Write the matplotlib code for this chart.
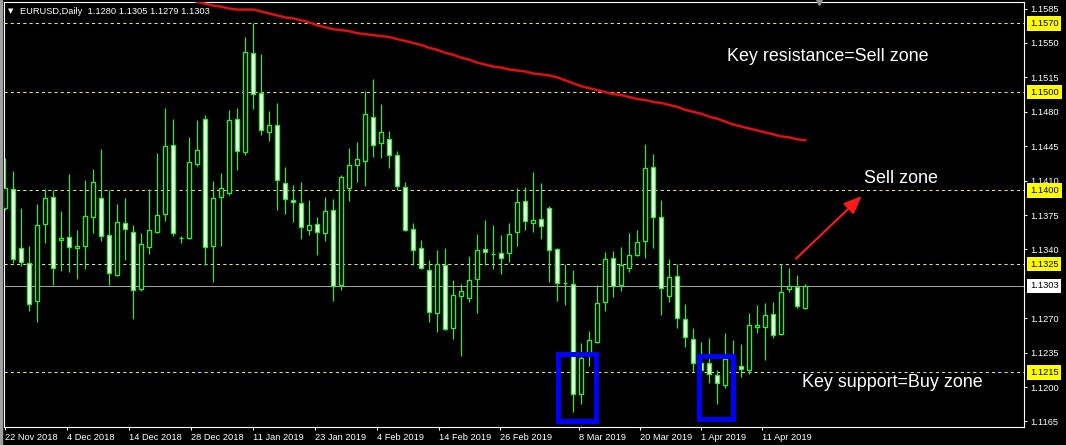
import numpy as np
import matplotlib
matplotlib.use('Agg')
import matplotlib.pyplot as plt
from matplotlib.patches import Rectangle

plt.rcParams['font.family'] = ['Liberation Sans', 'DejaVu Sans']

# dane swiec EURUSD D1
opens = [1.1382, 1.1401, 1.1341, 1.1326, 1.1288, 1.1366, 1.1393, 1.1350, 1.1353, 1.1341,
         1.1344, 1.1373, 1.1392, 1.1355, 1.1314, 1.1367, 1.1358, 1.1300, 1.1343, 1.1358,
         1.1376, 1.1446, 1.1352, 1.1352, 1.1427, 1.1473, 1.1344, 1.1393, 1.1397, 1.1473,
         1.1439, 1.1540, 1.1499, 1.1459, 1.1467, 1.1408, 1.1390, 1.1387, 1.1360, 1.1366,
         1.1357, 1.1380, 1.1304, 1.1402, 1.1426, 1.1430, 1.1475, 1.1448, 1.1452, 1.1436,
         1.1404, 1.1361, 1.1341, 1.1319, 1.1275, 1.1324, 1.1260, 1.1293, 1.1291, 1.1310,
         1.1340, 1.1335, 1.1336, 1.1336, 1.1358, 1.1389, 1.1367, 1.1371, 1.1382, 1.1340,
         1.1306, 1.1305, 1.1193, 1.1233, 1.1246, 1.1287, 1.1331, 1.1304, 1.1321, 1.1334,
         1.1349, 1.1424, 1.1373, 1.1293, 1.1313, 1.1269, 1.1249, 1.1224, 1.1225, 1.1212,
         1.1202, 1.1217, 1.1221, 1.1217, 1.1261, 1.1261, 1.1274, 1.1254, 1.1300, 1.1302,
         1.1280]
highs = [1.1433, 1.1420, 1.1382, 1.1344, 1.1386, 1.1401, 1.1400, 1.1379, 1.1417, 1.1360,
         1.1411, 1.1422, 1.1442, 1.1400, 1.1386, 1.1392, 1.1365, 1.1357, 1.1401, 1.1438,
         1.1484, 1.1473, 1.1354, 1.1454, 1.1472, 1.1477, 1.1410, 1.1418, 1.1482, 1.1484,
         1.1556, 1.1570, 1.1539, 1.1481, 1.1489, 1.1424, 1.1406, 1.1409, 1.1390, 1.1373,
         1.1393, 1.1391, 1.1416, 1.1443, 1.1449, 1.1501, 1.1513, 1.1488, 1.1460, 1.1440,
         1.1409, 1.1367, 1.1350, 1.1329, 1.1339, 1.1341, 1.1309, 1.1305, 1.1333, 1.1356,
         1.1370, 1.1365, 1.1355, 1.1367, 1.1403, 1.1404, 1.1419, 1.1408, 1.1384, 1.1341,
         1.1325, 1.1319, 1.1245, 1.1257, 1.1304, 1.1337, 1.1338, 1.1343, 1.1357, 1.1360,
         1.1447, 1.1437, 1.1390, 1.1330, 1.1325, 1.1285, 1.1260, 1.1246, 1.1250, 1.1217,
         1.1255, 1.1248, 1.1244, 1.1275, 1.1284, 1.1286, 1.1287, 1.1325, 1.1321, 1.1314,
         1.1305]
lows = [1.1380, 1.1326, 1.1323, 1.1277, 1.1266, 1.1347, 1.1304, 1.1318, 1.1317, 1.1310,
        1.1320, 1.1357, 1.1349, 1.1304, 1.1313, 1.1329, 1.1269, 1.1298, 1.1335, 1.1357,
        1.1369, 1.1354, 1.1347, 1.1351, 1.1425, 1.1324, 1.1307, 1.1344, 1.1395, 1.1421,
        1.1436, 1.1483, 1.1456, 1.1450, 1.1380, 1.1376, 1.1368, 1.1351, 1.1355, 1.1334,
        1.1349, 1.1288, 1.1299, 1.1389, 1.1409, 1.1405, 1.1434, 1.1433, 1.1423, 1.1400,
        1.1359, 1.1324, 1.1320, 1.1266, 1.1256, 1.1258, 1.1249, 1.1232, 1.1287, 1.1275,
        1.1324, 1.1320, 1.1315, 1.1327, 1.1344, 1.1360, 1.1358, 1.1351, 1.1307, 1.1288,
        1.1284, 1.1175, 1.1183, 1.1221, 1.1245, 1.1277, 1.1292, 1.1298, 1.1317, 1.1333,
        1.1331, 1.1341, 1.1273, 1.1287, 1.1260, 1.1241, 1.1215, 1.1214, 1.1204, 1.1183,
        1.1199, 1.1212, 1.1210, 1.1213, 1.1255, 1.1228, 1.1250, 1.1253, 1.1297, 1.1280,
        1.1279]
closes = [1.1402, 1.1330, 1.1327, 1.1285, 1.1365, 1.1392, 1.1321, 1.1352, 1.1342, 1.1344,
          1.1374, 1.1409, 1.1354, 1.1316, 1.1368, 1.1361, 1.1299, 1.1346, 1.1360, 1.1375,
          1.1445, 1.1357, 1.1352, 1.1429, 1.1441, 1.1343, 1.1392, 1.1402, 1.1472, 1.1440,
          1.1541, 1.1498, 1.1462, 1.1467, 1.1411, 1.1391, 1.1388, 1.1363, 1.1365, 1.1358,
          1.1379, 1.1303, 1.1414, 1.1426, 1.1432, 1.1478, 1.1446, 1.1459, 1.1436, 1.1405,
          1.1360, 1.1339, 1.1321, 1.1276, 1.1325, 1.1259, 1.1294, 1.1298, 1.1309, 1.1339,
          1.1337, 1.1335, 1.1331, 1.1356, 1.1388, 1.1369, 1.1370, 1.1364, 1.1339, 1.1306,
          1.1306, 1.1193, 1.1230, 1.1248, 1.1286, 1.1330, 1.1303, 1.1324, 1.1334, 1.1348,
          1.1423, 1.1373, 1.1301, 1.1312, 1.1270, 1.1251, 1.1225, 1.1217, 1.1213, 1.1204,
          1.1229, 1.1221, 1.1218, 1.1263, 1.1263, 1.1273, 1.1253, 1.1297, 1.1303, 1.1282,
          1.1303]

# srednia kroczaca (czerwona linia), od swiecy nr 23
ma_start = 23
ma = [1.1594, 1.1592, 1.1590, 1.1588, 1.1587, 1.1585, 1.1584, 1.1584, 1.1584, 1.1582,
      1.1580, 1.1578, 1.1576, 1.1575, 1.1573, 1.1571, 1.1568, 1.1566, 1.1564, 1.1563,
      1.1562, 1.1560, 1.1559, 1.1558, 1.1557, 1.1556, 1.1554, 1.1552, 1.1550, 1.1548,
      1.1545, 1.1543, 1.1540, 1.1538, 1.1535, 1.1533, 1.1530, 1.1528, 1.1526, 1.1525,
      1.1523, 1.1522, 1.1521, 1.1519, 1.1518, 1.1517, 1.1515, 1.1512, 1.1509, 1.1506,
      1.1504, 1.1502, 1.1500, 1.1498, 1.1497, 1.1495, 1.1493, 1.1492, 1.1490, 1.1489,
      1.1487, 1.1485, 1.1482, 1.1480, 1.1478, 1.1475, 1.1473, 1.1470, 1.1467, 1.1465,
      1.1463, 1.1461, 1.1459, 1.1457, 1.1455, 1.1454, 1.1452, 1.1451]

levels = [1.1570, 1.1500, 1.1400, 1.1325, 1.1215]
last_price = 1.1303
price_ticks = [1.1165, 1.1200, 1.1235, 1.1270, 1.1340, 1.1375, 1.1410,
               1.1445, 1.1480, 1.1515, 1.1550, 1.1585]
date_pos = [-0.04, 7.7, 15.5, 23.2, 31.0, 38.7, 46.5, 54.2, 61.8, 71.7, 79.3, 87.0, 94.6]
date_labels = ['22 Nov 2018', '4 Dec 2018', '14 Dec 2018', '28 Dec 2018', '11 Jan 2019',
               '23 Jan 2019', '4 Feb 2019', '14 Feb 2019', '26 Feb 2019', '8 Mar 2019',
               '20 Mar 2019', '1 Apr 2019', '11 Apr 2019']

GREEN = '#3ae23a'
W, H = 1066, 445

fig = plt.figure(figsize=(W / 100, H / 100), dpi=100, facecolor='black')
ax = fig.add_axes([4 / W, 18 / H, 1020 / W, 425 / H])
ax.set_facecolor('black')

o = np.array(opens)
c = np.array(closes)
x = np.arange(len(o))
bull = c >= o
bear = ~bull

# knoty i korpusy swiec
ax.vlines(x, lows, highs, color=GREEN, lw=0.9, zorder=2)
ax.bar(x[bull], c[bull] - o[bull], bottom=o[bull], width=0.55,
       facecolor='black', edgecolor=GREEN, lw=1.0, zorder=3)
ax.bar(x[bear], o[bear] - c[bear], bottom=c[bear], width=0.55,
       facecolor='white', edgecolor=GREEN, lw=1.0, zorder=3)

# poziomy
for lvl in levels:
    ax.axhline(lvl, color='#e8e860', lw=0.75, ls=(0, (3, 3)), zorder=1)
    ax.annotate('%.4f' % lvl, xy=(1, lvl), xycoords=('axes fraction', 'data'),
                xytext=(4.3, 0), textcoords='offset points', va='center', ha='left',
                fontsize=6.7, color='black', zorder=6, annotation_clip=False,
                bbox=dict(boxstyle='square,pad=0.3', fc='#ffff00', ec='none'))
ax.axhline(last_price, color='#a0a0a0', lw=0.75, zorder=1)
ax.annotate('%.4f' % last_price, xy=(1, last_price), xycoords=('axes fraction', 'data'),
            xytext=(4.3, 0), textcoords='offset points', va='center', ha='left',
            fontsize=6.7, color='black', zorder=6, annotation_clip=False,
            bbox=dict(boxstyle='square,pad=0.3', fc='white', ec='none'))

# srednia
ax.plot(np.arange(ma_start, ma_start + len(ma)), ma, color='#dd1111', lw=1.8, zorder=4)

# ramki i strzalka
ax.add_patch(Rectangle((69.03, 1.11650), 4.77, 0.00684, fill=False,
                       ec='#0000ff', lw=3.6, zorder=5))
ax.add_patch(Rectangle((86.68, 1.11673), 4.32, 0.00645, fill=False,
                       ec='#0000ff', lw=3.6, zorder=5))
ax.annotate('', xy=(107.05, 1.13943), xytext=(98.84, 1.13306),
            arrowprops=dict(arrowstyle='-|>,head_length=0.6,head_width=0.25',
                            color='#ff1a1a', lw=1.5, mutation_scale=18, shrinkA=0, shrinkB=0),
            zorder=6)

ax.text(90.2, 1.15367, 'Key resistance=Sell zone', color='white', fontsize=12.9,
        va='center', ha='left', zorder=6)
ax.text(107.3, 1.14123, 'Sell zone', color='white', fontsize=12.9,
        va='center', ha='left', zorder=6)
ax.text(99.55, 1.12044, 'Key support=Buy zone', color='white', fontsize=12.9,
        va='center', ha='left', zorder=6)

ax.set_xlim(-0.16, 127.34)
ax.set_ylim(1.11594, 1.15917)

ax.yaxis.tick_right()
ax.set_yticks(price_ticks)
ax.set_yticklabels(['%.4f' % p for p in price_ticks])
ax.set_xticks(date_pos)
ax.set_xticklabels(date_labels, ha='left')
ax.tick_params(colors='white', labelcolor='white', labelsize=6.7,
               length=2.2, width=0.75, pad=2)
for s in ax.spines.values():
    s.set_color('white')
    s.set_linewidth(0.8)

# naglowek okna
fig.text(11 / W, 1 - 11 / H, '\u25bc', color='white', fontsize=5,
         ha='center', va='center', family='DejaVu Sans')
fig.text(20 / W, 1 - 11 / H, 'EURUSD,Daily  1.1280 1.1305 1.1279 1.1303',
         color='white', fontsize=6.7, va='center', ha='left')
ax.plot([101.7], [1.0], marker='v', color='#909090', markersize=4,
        transform=ax.get_xaxis_transform(), clip_on=False, zorder=6)
fig.patches.append(Rectangle((0, 0), 2 / W, 1, transform=fig.transFigure,
                             color='#a0a0a0'))

fig.savefig('out.png', dpi=100, facecolor='black')
